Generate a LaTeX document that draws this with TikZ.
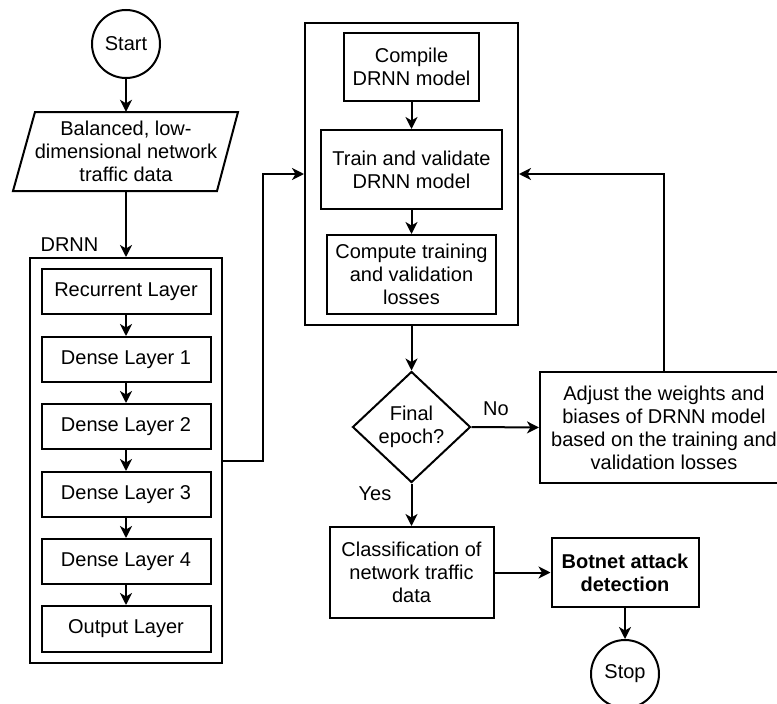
\documentclass[tikz,border=0pt]{standalone}
\usepackage{fontspec}
\setmainfont{Liberation Sans}
\usetikzlibrary{arrows.meta,shapes.geometric}
\begin{document}
\begin{tikzpicture}[x=1pt,y=-1pt,
  every node/.style={font=\fontsize{20}{23}\selectfont, align=center, inner sep=0pt},
  box/.style={draw, line width=2pt, rectangle},
  ln/.style={line width=2pt},
  conn/.style={line width=2pt, -{Stealth[length=12pt,width=12pt,inset=3.5pt]}}]
\useasboundingbox (0,0) rectangle (777,704);
\clip (0,0) rectangle (777,704);

% left column
\node[box, circle, minimum size=68pt] (start) at (126,44) {Start};
\node[minimum width=180pt, minimum height=79pt] (data) at (126,151.5) {Balanced, low-\\dimensional network\\traffic data};
\draw[ln, line join=miter] (35,112) -- (238,112) -- (217,191) -- (13,191) -- cycle;

\node (drnnlabel) at (69.5,244.5) {DRNN};
\node[box, minimum width=192pt, minimum height=405pt] (drnn) at (126,460.5) {};
\node[box, minimum width=169pt, minimum height=45pt] (l1) at (126,291.5) {Recurrent Layer};
\node[box, minimum width=169pt, minimum height=45pt] (l2) at (126,359.5) {Dense Layer 1};
\node[box, minimum width=169pt, minimum height=45pt] (l3) at (126,426.5) {Dense Layer 2};
\node[box, minimum width=169pt, minimum height=45pt] (l4) at (126,494.5) {Dense Layer 3};
\node[box, minimum width=169pt, minimum height=45pt] (l5) at (126,561.5) {Dense Layer 4};
\node[box, minimum width=169pt, minimum height=46pt] (l6) at (126,629) {Output Layer};

% training block
\node[box, minimum width=213pt, minimum height=302pt] (outer) at (411.5,174) {};
\node[box, minimum width=135pt, minimum height=68pt] (compile) at (411.5,67) {Compile\\DRNN model};
\node[box, minimum width=181pt, minimum height=79pt] (train) at (411.5,169.5) {Train and validate\\DRNN model};
\node[box, minimum width=169pt, minimum height=79pt] (loss) at (411.5,274.5) {Compute training\\and validation\\losses};

% decision
\node[draw, line width=2pt, diamond, aspect=1.06, minimum width=118pt, minimum height=111pt] (dec) at (411.5,427) {Final\\epoch?};
\node[box, minimum width=248pt, minimum height=111pt] (adjust) at (664,427.5) {Adjust the weights and\\biases of DRNN model\\based on the training and\\validation losses};
\node (no) at (496,408.5) {No};
\node (yes) at (375,493.5) {Yes};

% output
\node[box, minimum width=164pt, minimum height=91pt] (cls) at (411.5,572.5) {Classification of\\network traffic\\data};
\node[box, minimum width=147pt, minimum height=69pt] (bot) at (625,572.5) {\bfseries Botnet attack\\\bfseries detection};
\node[box, circle, minimum size=68pt] (stop) at (625,674) {Stop};

\coordinate (bend) at (263,174);

% connectors
\draw[conn] (start) -- (data);
\draw[conn] (data.south) -- (drnn.north);
\draw[conn] (l1) -- (l2);
\draw[conn] (l2) -- (l3);
\draw[conn] (l3) -- (l4);
\draw[conn] (l4) -- (l5);
\draw[conn] (l5) -- (l6);
\draw[conn] (drnn.east) -| (bend) -- (outer.west);
\draw[conn] (compile) -- (train);
\draw[conn] (train) -- (loss);
\draw[conn] (outer.south) -- (dec.north);
\draw[conn] (dec.east) -- (adjust.west);
\draw[conn] (adjust.north) |- (outer.east);
\draw[conn] (dec.south) -- (cls.north);
\draw[conn] (cls) -- (bot);
\draw[conn] (bot) -- (stop);
\end{tikzpicture}
\end{document}
